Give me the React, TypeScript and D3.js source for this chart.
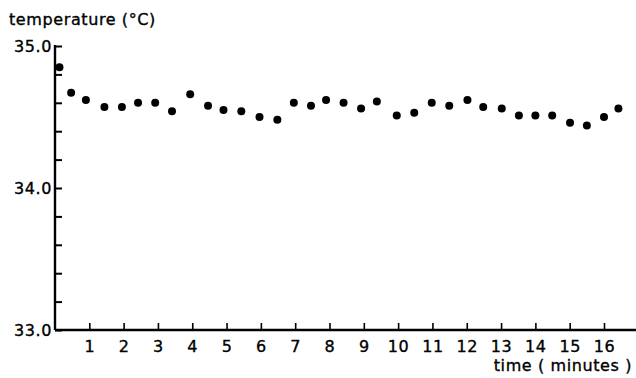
import React, { useEffect, useRef } from "react";
import * as d3 from "d3";

// time (minutes) and temperature (°C)
const times = [
  0.13, 0.47, 0.9, 1.44, 1.95, 2.42, 2.92, 3.41, 3.94, 4.46, 4.91, 5.43, 5.96,
  6.48, 6.96, 7.46, 7.9, 8.41, 8.92, 9.38, 9.96, 10.47, 10.98, 11.49, 12.02,
  12.48, 13.02, 13.52, 14.0, 14.49, 15.01, 15.5, 16.0, 16.42,
];
const temps = [
  34.85, 34.67, 34.62, 34.57, 34.57, 34.6, 34.6, 34.54, 34.66, 34.58, 34.55,
  34.54, 34.5, 34.48, 34.6, 34.58, 34.62, 34.6, 34.56, 34.61, 34.51, 34.53,
  34.6, 34.58, 34.62, 34.57, 34.56, 34.51, 34.51, 34.51, 34.46, 34.44, 34.5,
  34.56,
];
const xTicks = [1, 2, 3, 4, 5, 6, 7, 8, 9, 10, 11, 12, 13, 14, 15, 16];
const yTicks = [33.0, 33.2, 33.4, 33.6, 33.8, 34.0, 34.2, 34.4, 34.6, 34.8, 35.0];
const yLabels = [33.0, 34.0, 35.0];

const W = 636;
const H = 378;
const FONT = "'DejaVu Sans', sans-serif";

export default function App() {
  const svgRef = useRef<SVGSVGElement>(null);

  useEffect(() => {
    if (!svgRef.current) return;
    const svg = d3.select(svgRef.current);
    svg.selectAll("*").remove();

    const x = d3.scaleLinear().domain([0, 16]).range([55, 604]);
    const y = d3.scaleLinear().domain([33, 35]).range([330, 46]);

    const styleText = (sel: any, size: number) =>
      sel
        .style("font-family", FONT)
        .style("font-size", `${size}px`)
        .style("letter-spacing", "0.6px")
        .attr("fill", "#000")
        .attr("stroke", "#000")
        .attr("stroke-width", 0.35);

    // x axis
    const xAxis = svg
      .append("g")
      .attr("transform", `translate(0,${y(33)})`)
      .call(
        d3
          .axisBottom(x)
          .tickValues(xTicks)
          .tickSize(-7)
          .tickSizeOuter(0)
          .tickPadding(11)
          .tickFormat((d) => String(d))
      );
    xAxis.select(".domain").remove();
    xAxis.selectAll("line").attr("stroke", "#000").attr("stroke-width", 1.6);
    styleText(xAxis.selectAll("text"), 16);
    xAxis
      .append("line")
      .attr("x1", x(0))
      .attr("x2", W)
      .attr("stroke", "#000")
      .attr("stroke-width", 2.6);

    // y axis
    const yAxis = svg
      .append("g")
      .attr("transform", `translate(${x(0)},0)`)
      .call(
        d3
          .axisLeft(y)
          .tickValues(yTicks)
          .tickSize(-7)
          .tickSizeOuter(0)
          .tickPadding(3)
          .tickFormat((d) =>
            yLabels.includes(+d) ? d3.format(".1f")(+d) : ""
          )
      );
    yAxis.select(".domain").remove();
    yAxis.selectAll("line").attr("stroke", "#000").attr("stroke-width", 2);
    styleText(yAxis.selectAll("text"), 16);
    yAxis
      .append("line")
      .attr("y1", y(33))
      .attr("y2", y(35) - 1)
      .attr("stroke", "#000")
      .attr("stroke-width", 2.4);

    // points
    svg
      .append("g")
      .selectAll("circle")
      .data(times)
      .join("circle")
      .attr("cx", (d) => x(d))
      .attr("cy", (_, i) => y(temps[i]))
      .attr("r", 4)
      .attr("fill", "#000");

    // axis titles
    styleText(
      svg
        .append("text")
        .attr("x", 9)
        .attr("y", 25)
        .text("temperature (°C)"),
      16
    );

    styleText(
      svg
        .append("text")
        .attr("x", 632)
        .attr("y", 371)
        .attr("text-anchor", "end")
        .text("time ( minutes )"),
      16
    );
  }, []);

  return (
    <svg
      ref={svgRef}
      width={W}
      height={H}
      style={{ position: "absolute", left: 0, top: 0, background: "#fff" }}
    />
  );
}
